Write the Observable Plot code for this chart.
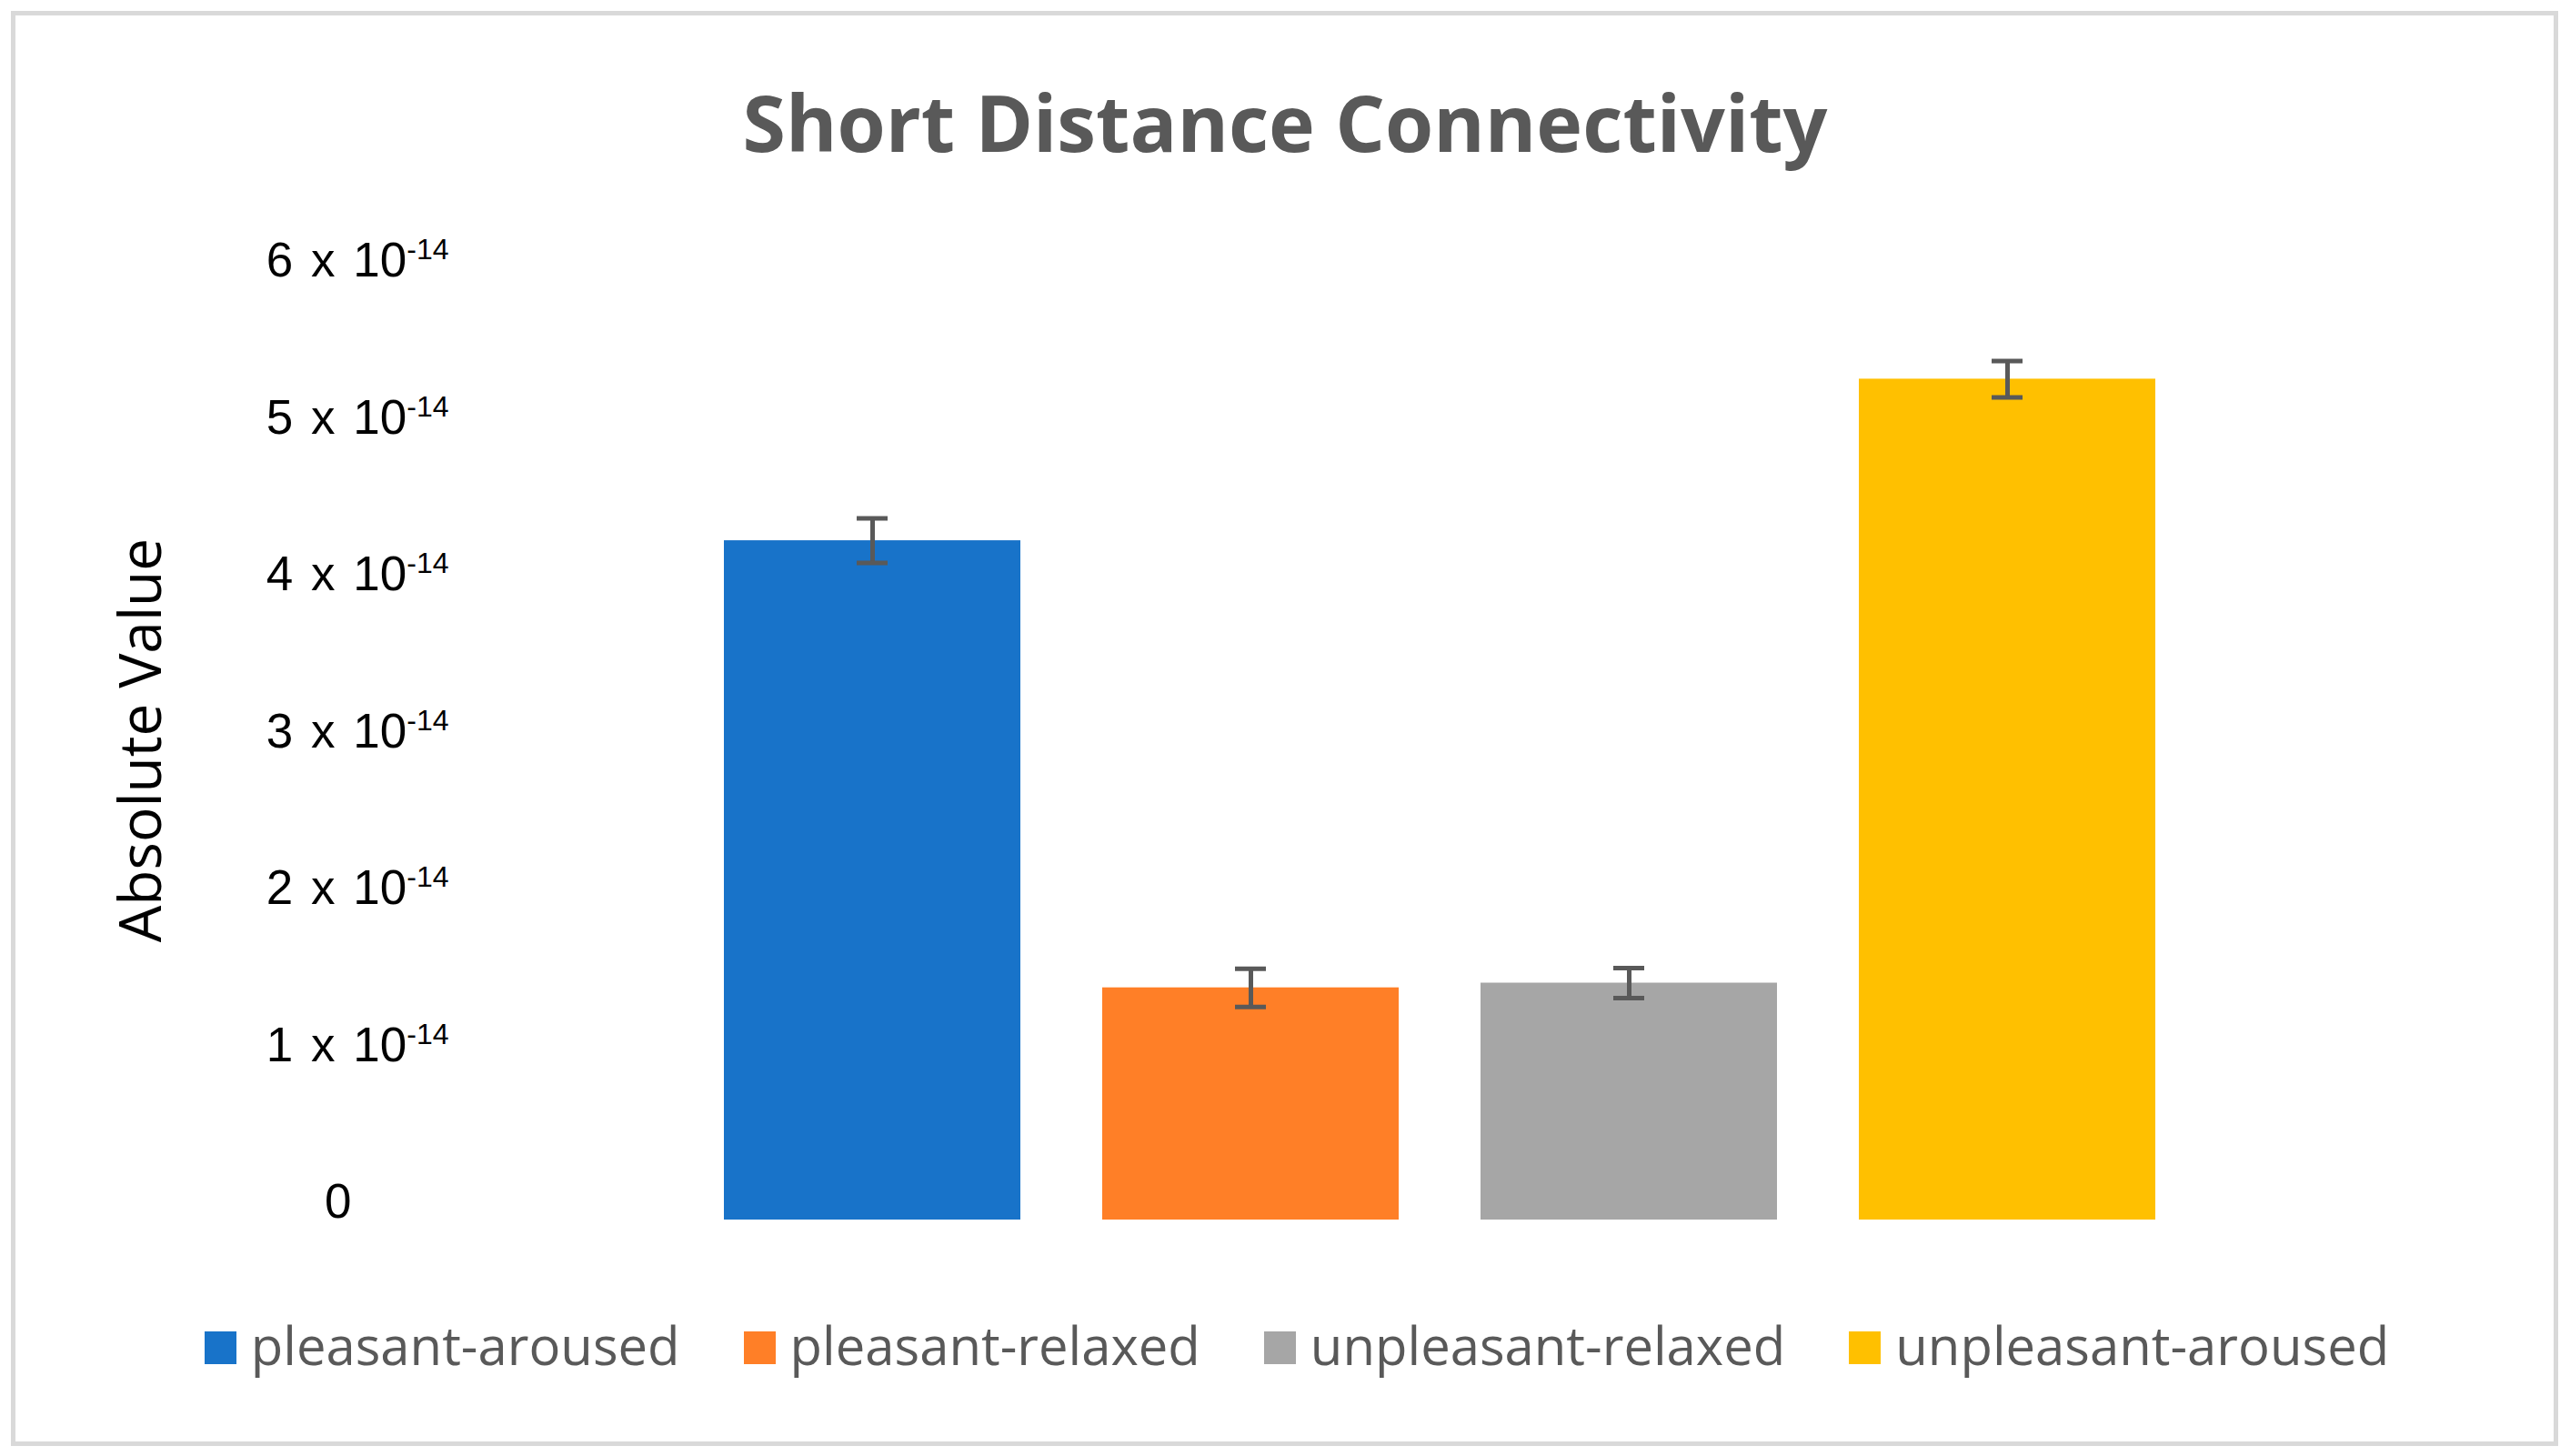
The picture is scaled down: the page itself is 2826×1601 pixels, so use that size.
<!DOCTYPE html>
<html><head><meta charset="utf-8">
<script src="https://cdn.jsdelivr.net/npm/d3@7"></script>
<script src="https://cdn.jsdelivr.net/npm/@observablehq/plot@0.6"></script>
<style>
html,body{margin:0;padding:0;background:#fff;}
#page{position:relative;width:2826px;height:1601px;overflow:hidden;background:#fff;}
#frame{position:absolute;left:12px;top:12px;width:2801px;height:1578px;box-sizing:border-box;border:5px solid #d9d9d9;}
#title{position:absolute;left:0;top:91px;width:2826px;text-align:center;font-family:"Open Sans",sans-serif;font-weight:bold;font-size:86px;line-height:86px;color:#595959;white-space:nowrap;}
#ylabel{position:absolute;left:153px;top:814px;transform:translate(-50%,-50%) rotate(-90deg);font-family:"Open Sans",sans-serif;font-size:64px;line-height:64px;color:#000;white-space:nowrap;}
#chart{position:absolute;left:0;top:0;}
#legend{position:absolute;left:0;top:1450px;width:2852px;display:flex;justify-content:center;font-family:"Open Sans",sans-serif;font-size:58px;line-height:58px;color:#595959;white-space:nowrap;}
.item{display:flex;align-items:flex-start;margin:0 35px;}
.sw{width:35px;height:36px;margin-top:14px;margin-right:16px;}
</style></head>
<body>
<div id="page">
  <div id="frame"></div>
  <div id="chart"></div>
  <div id="title"></div>
  <div id="ylabel"></div>
  <div id="legend"></div>
</div>
<script>
// ---- data ----
const titleText = "Short Distance Connectivity";
const yLabelText = "Absolute Value";
const categories = ["pleasant-aroused", "pleasant-relaxed", "unpleasant-relaxed", "unpleasant-aroused"];
const values = [4.33e-14, 1.48e-14, 1.51e-14, 5.36e-14];
const errors = [0.142e-14, 0.122e-14, 0.096e-14, 0.116e-14];
const colors = ["#1873C9", "#FF7F27", "#A6A6A6", "#FFC000"];
const yTicks = [1e-14, 2e-14, 3e-14, 4e-14, 5e-14, 6e-14];
const yTickMantissas = ["1", "2", "3", "4", "5", "6"];
const yTickExponent = "-14";
const zeroLabel = "0";

const data = categories.map((c, i) => ({cat: c, value: values[i], err: errors[i]}));

document.getElementById("title").textContent = titleText;
document.getElementById("ylabel").textContent = yLabelText;

const errColor = "#595959";
const plot = Plot.plot({
  width: 2826,
  height: 1400,
  marginTop: 306,
  marginBottom: 59,
  marginLeft: 795,
  marginRight: 455,
  style: {fontFamily: "'Liberation Sans', Arial, sans-serif", fontSize: "53px", color: "#000", background: "transparent", overflow: "visible", wordSpacing: "5px"},
  x: {domain: categories, paddingInner: 0.216, paddingOuter: 0, axis: null},
  y: {domain: [0, 6e-14], label: null},
  color: {domain: categories, range: colors},
  marks: [
    Plot.barY(data, {x: "cat", y: "value", fill: "cat"}),
    Plot.ruleX(data, {x: "cat", y1: d => d.value - d.err, y2: d => d.value + d.err, stroke: errColor, strokeWidth: 5}),
    Plot.tickY(data, {x: "cat", y: d => d.value - d.err, stroke: errColor, strokeWidth: 5, insetLeft: 146, insetRight: 146}),
    Plot.tickY(data, {x: "cat", y: d => d.value + d.err, stroke: errColor, strokeWidth: 5, insetLeft: 146, insetRight: 146}),
    Plot.axisY({ticks: yTicks, label: null, tickSize: 0, tickPadding: 302, dy: -19, fill: "#000",
      tickFormat: d => yTickMantissas[Math.round(d / 1e-14) - 1] + " x 10^" + yTickExponent}),
    Plot.axisY({ticks: [0], label: null, tickSize: 0, tickPadding: 409, dy: -19, fill: "#000", tickFormat: () => zeroLabel})
  ]
});
document.getElementById("chart").appendChild(plot);

// superscripts
plot.querySelectorAll("text").forEach(t => {
  const s = t.textContent;
  const k = s.indexOf("^");
  if (k >= 0) {
    const base = s.slice(0, k), sup = s.slice(k + 1);
    while (t.firstChild) t.removeChild(t.firstChild);
    t.appendChild(document.createTextNode(base));
    const ts = document.createElementNS("http://www.w3.org/2000/svg", "tspan");
    ts.setAttribute("dy", "-19");
    ts.setAttribute("font-size", "32");
    ts.textContent = sup;
    t.appendChild(ts);
  }
});

// legend
const lg = document.getElementById("legend");
categories.forEach((c, i) => {
  const it = document.createElement("div");
  it.className = "item";
  const sw = document.createElement("div");
  sw.className = "sw";
  sw.style.background = colors[i];
  const tx = document.createElement("span");
  tx.textContent = c;
  it.appendChild(sw); it.appendChild(tx);
  lg.appendChild(it);
});
</script>
</body></html>
